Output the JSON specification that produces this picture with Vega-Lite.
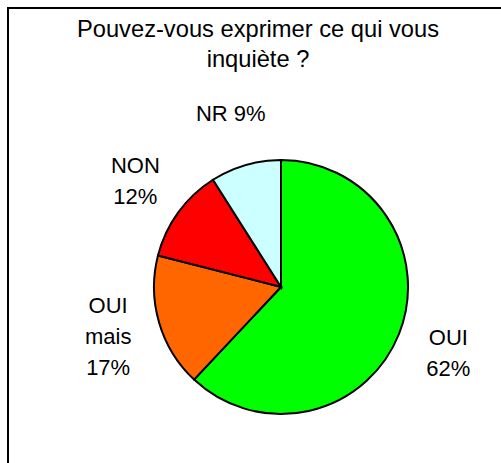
{
  "$schema": "https://vega.github.io/schema/vega-lite/v6.json",
  "autosize": "none",
  "padding": {"left": 8, "top": 8, "right": 0, "bottom": 0},
  "width": 546,
  "height": 558,
  "background": "white",
  "title": {
    "text": ["Pouvez-vous exprimer ce qui vous", "inquiète ?"],
    "font": "Liberation Sans",
    "fontSize": 23.7,
    "fontWeight": "normal",
    "lineHeight": 30,
    "color": "black",
    "anchor": "middle",
    "baseline": "top",
    "dx": -23,
    "offset": -65
  },
  "data": {
    "values": [
      {"cat": "OUI", "value": 62, "label": "OUI\n62%", "ord": 1},
      {"cat": "OUI mais", "value": 17, "label": "OUI\nmais\n17%", "ord": 2},
      {"cat": "NON", "value": 12, "label": "NON\n12%", "ord": 3},
      {"cat": "NR", "value": 9, "label": "NR 9%", "ord": 4}
    ]
  },
  "layer": [
    {
      "data": {"values": [{"frame": 1}]},
      "mark": {"type": "rect", "fill": null, "stroke": "black", "strokeWidth": 2},
      "encoding": {}
    },
    {
      "mark": {"type": "arc", "outerRadius": 127, "stroke": "black", "strokeWidth": 2},
      "encoding": {
        "theta": {"field": "value", "type": "quantitative", "stack": true},
        "order": {"field": "ord", "type": "quantitative"},
        "color": {
          "field": "cat",
          "type": "nominal",
          "scale": {"domain": ["OUI", "OUI mais", "NON", "NR"], "range": ["#00FF00", "#FF6600", "#FF0000", "#CCFFFF"]},
          "legend": null
        }
      }
    },
    {
      "mark": {"type": "text", "radius": 180, "font": "Liberation Sans", "fontSize": 22, "lineHeight": 31, "lineBreak": "\n", "align": "center", "baseline": "middle", "color": "black",
        "dy": {"expr": "-15.5*(length(split(datum.label,'\\n'))-1)"}},
      "encoding": {
        "theta": {"field": "value", "type": "quantitative", "stack": true},
        "order": {"field": "ord", "type": "quantitative"},
        "text": {"field": "label", "type": "nominal"}
      }
    }
  ],
  "config": {
    "view": {"stroke": "black", "strokeWidth": 2}
  }
}
